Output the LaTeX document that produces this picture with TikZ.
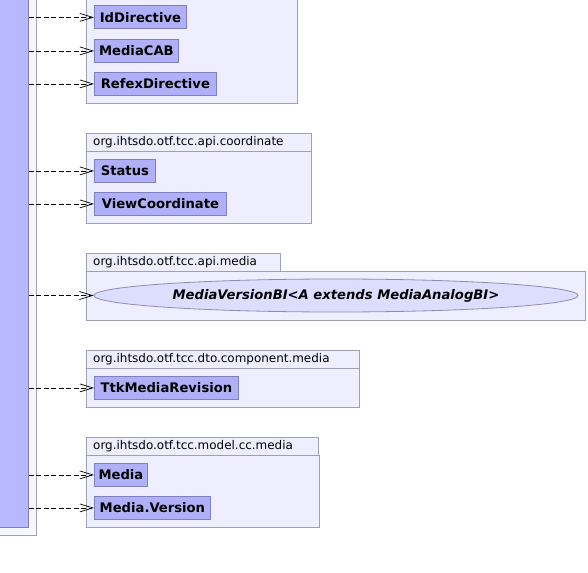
\documentclass[tikz,border=0pt]{standalone}
\usepackage{fontspec}
\setmainfont{DejaVu Sans}
\usetikzlibrary{arrows.meta,shapes.geometric}
\definecolor{pkgfill}{RGB}{238,238,255}
\definecolor{pkgline}{RGB}{160,160,176}
\definecolor{clsfill}{RGB}{176,176,248}
\definecolor{clsline}{RGB}{128,128,192}
\definecolor{libfill}{RGB}{184,184,255}
\definecolor{libline}{RGB}{128,128,176}
\definecolor{ellfill}{RGB}{221,221,255}
\definecolor{ellline}{RGB}{140,140,176}
\tikzset{
  pkgbox/.style={draw=pkgline, fill=pkgfill, line width=0.8bp},
  pkglabel/.style={anchor=west, inner sep=0pt, font=\fontsize{12}{14}\selectfont},
  cls/.style={draw=clsline, fill=clsfill, line width=0.8bp, inner sep=0pt, anchor=north west,
    minimum height=23bp, font=\fontsize{13.2}{15}\selectfont\bfseries},
  dep/.style={dash pattern=on 5bp off 2.5bp, line width=0.7bp,
    -{Straight Barb[length=13bp,width=8bp,line width=0.7bp]}},
}
\begin{document}
\begin{tikzpicture}[x=1bp,y=-1bp]
\useasboundingbox (0,0) rectangle (588,573);
% library block
\node[draw=pkgline, fill=pkgfill!45!white, line width=0.8bp, inner sep=0pt, anchor=north west,
  minimum width=37bp, minimum height=545bp] (outer) at (-1,-10) {};
\node[draw=libline, fill=libfill, line width=0.8bp, inner sep=0pt, anchor=north west,
  minimum width=29bp, minimum height=537bp] (lib) at (-1,-10) {};
% package 1 (top, tab off-page)
\draw[pkgbox] (86,-10) rectangle (297,103);
\node[cls, minimum width=92bp] (c1) at (94,5.5) {IdDirective};
\node[cls, minimum width=84bp] (c2) at (94,39) {MediaCAB};
\node[cls, minimum width=122bp] (c3) at (94,72) {RefexDirective};
% package coordinate
\draw[pkgbox] (86,133) rectangle (311,151);
\draw[pkgbox] (86,151) rectangle (311,223);
\node[pkglabel] (p2) at (93,142.5) {org.ihtsdo.otf.tcc.api.coordinate};
\node[cls, minimum width=61bp] (c4) at (94,159) {Status};
\node[cls, minimum width=132bp] (c5) at (94,192) {ViewCoordinate};
% package api.media
\draw[pkgbox] (86,253) rectangle (280,271);
\draw[pkgbox] (86,271) rectangle (585,320);
\node[pkglabel] (p3) at (93,262.5) {org.ihtsdo.otf.tcc.api.media};
\node[ellipse, draw=ellline, fill=ellfill, line width=0.8bp, inner sep=0pt,
  minimum width=484bp, minimum height=33bp, font=\fontsize{13.2}{15}\selectfont\bfseries\itshape]
  (c6) at (336,295.5) {MediaVersionBI<A extends MediaAnalogBI>};
% package dto.component.media
\draw[pkgbox] (86,350) rectangle (359,368);
\draw[pkgbox] (86,368) rectangle (359,407);
\node[pkglabel] (p4) at (93,359.5) {org.ihtsdo.otf.tcc.dto.component.media};
\node[cls, minimum width=144bp] (c7) at (94,376) {TtkMediaRevision};
% package model.cc.media
\draw[pkgbox] (86,437) rectangle (318,455);
\draw[pkgbox] (86,455) rectangle (319,527);
\node[pkglabel] (p5) at (93,446.5) {org.ihtsdo.otf.tcc.model.cc.media};
\node[cls, minimum width=53bp] (c8) at (94,463) {Media};
\node[cls, minimum width=116bp] (c9) at (94,496) {Media.Version};
% dependencies
\foreach \c in {c1,c2,c3,c4,c5,c6,c7,c8,c9}
  \draw[dep] (lib.east |- \c.west) -- (\c.west);
\end{tikzpicture}
\end{document}
